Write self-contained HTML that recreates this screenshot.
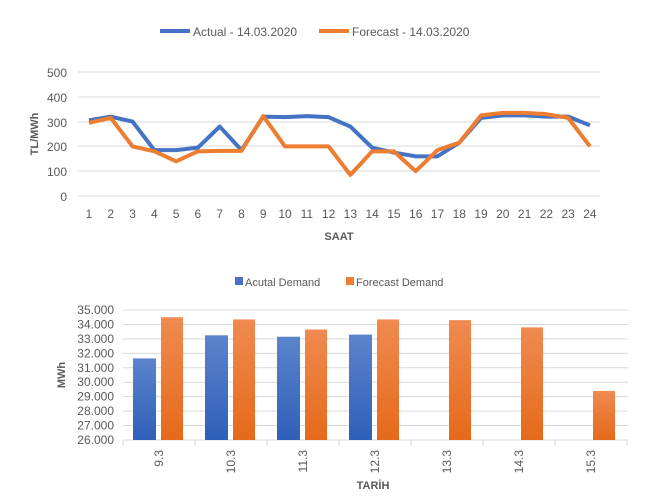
<!DOCTYPE html>
<html><head><style>body{margin:0;background:#fff}svg{display:block}text{font-family:"Liberation Sans",sans-serif}</style></head><body>
<svg width="655" height="499" xmlns="http://www.w3.org/2000/svg">
<defs>
<linearGradient id="gb" x1="0" y1="0" x2="0" y2="1"><stop offset="0" stop-color="#5b84cc"/><stop offset="1" stop-color="#2f5fb8"/></linearGradient>
<linearGradient id="go" x1="0" y1="0" x2="0" y2="1"><stop offset="0" stop-color="#f08a50"/><stop offset="1" stop-color="#e56a1a"/></linearGradient>
</defs>
<!-- top legend -->
<line x1="160" y1="31" x2="190" y2="31" stroke="#4472c4" stroke-width="4"/>
<text x="193" y="36" font-size="12" fill="#595959">Actual - 14.03.2020</text>
<line x1="319" y1="31" x2="349" y2="31" stroke="#ed7d31" stroke-width="4"/>
<text x="352" y="36" font-size="12" fill="#595959">Forecast - 14.03.2020</text>
<g stroke="#d9d9d9" stroke-width="1">
<line x1="78" y1="72" x2="600" y2="72"/><line x1="78" y1="97" x2="600" y2="97"/><line x1="78" y1="122" x2="600" y2="122"/><line x1="78" y1="146" x2="600" y2="146"/><line x1="78" y1="171" x2="600" y2="171"/><line x1="78" y1="196" x2="600" y2="196"/>
</g>
<g font-size="12" fill="#595959" text-anchor="end">
<text x="67" y="77">500</text><text x="67" y="102">400</text><text x="67" y="127">300</text><text x="67" y="151">200</text><text x="67" y="176">100</text><text x="67" y="201">0</text>
</g>
<text transform="translate(38,134) rotate(-90)" font-size="11" font-weight="bold" fill="#595959" text-anchor="middle">TL/MWh</text>
<g font-size="12" fill="#595959" text-anchor="middle" id="xl"></g>
<text x="339" y="240" font-size="11" font-weight="bold" fill="#595959" text-anchor="middle">SAAT</text>
<polyline id="pa" fill="none" stroke="#4472c4" stroke-width="4" stroke-linejoin="round"/>
<polyline id="pf" fill="none" stroke="#ed7d31" stroke-width="4" stroke-linejoin="round"/>
<!-- bottom -->
<rect x="235" y="277" width="8" height="8" fill="#4472c4"/>
<text x="245" y="286" font-size="11" fill="#595959">Acutal Demand</text>
<rect x="346" y="277" width="8" height="8" fill="#ed7d31"/>
<text x="356" y="286" font-size="11" fill="#595959">Forecast Demand</text>
<g id="bg" stroke="#d9d9d9" stroke-width="1"></g>
<g id="yl" font-size="12" fill="#595959" text-anchor="end"></g>
<text transform="translate(65,375) rotate(-90)" font-size="11" font-weight="bold" fill="#595959" text-anchor="middle">MWh</text>
<g id="bars"></g>
<text x="373" y="489" font-size="11" font-weight="bold" fill="#595959" text-anchor="middle">TARİH</text>
</svg>
<script>
var ns="http://www.w3.org/2000/svg";
function el(t,a,p,tx){var e=document.createElementNS(ns,t);for(var k in a)e.setAttribute(k,a[k]);if(tx)e.textContent=tx;p.appendChild(e);return e;}
var A=[305,320,300,185,185,195,280,185,320,318,322,318,280,195,175,160,160,215,315,325,325,320,320,285];
var F=[295,315,200,180,140,180,182,182,322,200,200,200,85,180,180,100,185,215,325,335,335,330,315,200];
function X(i){return 89+i*21.78}function Y(v){return 196-v*0.248}
document.getElementById('pa').setAttribute('points',A.map(function(v,i){return X(i)+','+Y(v)}).join(' '));
document.getElementById('pf').setAttribute('points',F.map(function(v,i){return X(i)+','+Y(v)}).join(' '));
var xl=document.getElementById('xl');for(var i=0;i<24;i++)el('text',{x:X(i),y:218},xl,String(i+1));
var bg=document.getElementById('bg'),yl=document.getElementById('yl');
function BY(v){return 440-(v-26000)*0.01444}
for(var k=0;k<10;k++){var y=BY(26000+k*1000);el('line',{x1:123,y1:y,x2:628,y2:y},bg);el('text',{x:114,y:y+4},yl,(26+k)+'.000');}
for(var k=0;k<8;k++){var x=123+k*72;el('line',{x1:x,y1:440,x2:x,y2:446},bg);}
var ba=[31650,33250,33150,33300],bf=[34500,34350,33650,34350,34300,33800,29400],lab=['9.3','10.3','11.3','12.3','13.3','14.3','15.3'];
var bars=document.getElementById('bars');
for(var i=0;i<7;i++){var x0=123+i*72;
if(i<4)el('rect',{x:x0+10,y:BY(ba[i]),width:23,height:440-BY(ba[i]),fill:'url(#gb)'},bars);
el('rect',{x:x0+38,y:BY(bf[i]),width:22,height:440-BY(bf[i]),fill:'url(#go)'},bars);
el('text',{transform:'translate('+(x0+40)+',450) rotate(-90)','font-size':12,fill:'#595959','text-anchor':'end'},bars,lab[i]);}
</script>
</body></html>
